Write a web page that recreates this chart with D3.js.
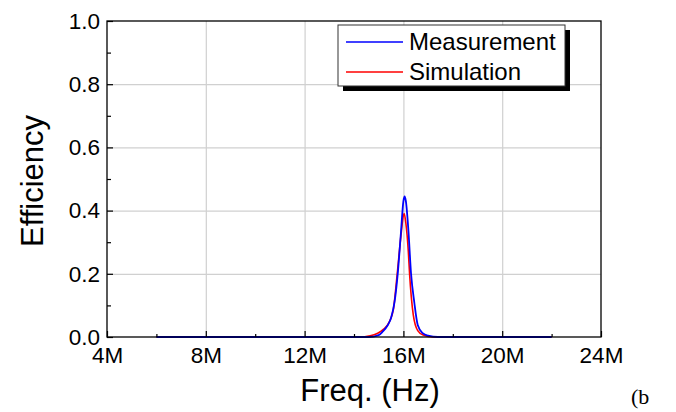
<!DOCTYPE html>
<html>
<head>
<meta charset="utf-8">
<script src="https://cdn.jsdelivr.net/npm/d3@7"></script>
<style>
  body { margin: 0; background: #fff; }
  svg { display: block; font-family: "Liberation Sans", Arial, sans-serif; }
</style>
</head>
<body>
<svg id="chart" width="676" height="412"></svg>
<script>
// frequencies in MHz, efficiency
const freqMeas = [6, 14.6, 15.0, 15.16, 15.37, 15.5, 15.64, 15.77, 15.9, 16.0, 16.05, 16.1, 16.2, 16.31, 16.44, 16.58, 16.78, 17.0, 17.4, 22];
const measurement = [0, 0, 0.006, 0.017, 0.038, 0.06, 0.11, 0.2, 0.33, 0.43, 0.445, 0.43, 0.34, 0.2, 0.11, 0.038, 0.012, 0.004, 0, 0];

const freqSim = [6, 14.3, 14.6, 14.96, 15.2, 15.43, 15.6, 15.75, 15.9, 16.0, 16.03, 16.1, 16.2, 16.25, 16.4, 16.58, 16.8, 17.2, 22];
const simulation = [0, 0, 0.003, 0.012, 0.025, 0.048, 0.09, 0.2, 0.32, 0.385, 0.391, 0.36, 0.27, 0.2, 0.07, 0.02, 0.006, 0, 0];

const xTicks = [4, 8, 12, 16, 20, 24];
const xMinor = [6, 10, 14, 18, 22];
const yTicks = [0, 0.2, 0.4, 0.6, 0.8, 1.0];
const yMinor = [0.1, 0.3, 0.5, 0.7, 0.9];

const seriesNames = ["Measurement", "Simulation"];
const seriesColors = ["#0000ff", "#ff0000"];

const margin = {left: 107, top: 21, right: 75, bottom: 75};
const width = 676 - margin.left - margin.right;
const height = 412 - margin.top - margin.bottom;

const svg = d3.select("#chart");
const g = svg.append("g").attr("transform", `translate(${margin.left},${margin.top})`);

const x = d3.scaleLinear().domain([4, 24]).range([0, width]);
const y = d3.scaleLinear().domain([0, 1]).range([height, 0]);

// grid
g.append("g")
  .attr("transform", `translate(0,${height})`)
  .call(d3.axisBottom(x).tickValues(xTicks.slice(1, -1)).tickSize(-height).tickFormat(""))
  .call(a => a.select(".domain").remove())
  .call(a => a.selectAll("line").attr("stroke", "#d0d0d0").attr("stroke-width", 1.2));
g.append("g")
  .call(d3.axisLeft(y).tickValues(yTicks.slice(1, -1)).tickSize(-width).tickFormat(""))
  .call(a => a.select(".domain").remove())
  .call(a => a.selectAll("line").attr("stroke", "#d0d0d0").attr("stroke-width", 1.2));

// lines
const pairs = [
  freqMeas.map((f, i) => [f, measurement[i]]),
  freqSim.map((f, i) => [f, simulation[i]])
];
const line = d3.line().x(d => x(d[0])).y(d => y(d[1])).curve(d3.curveMonotoneX);

g.append("path").datum(pairs[1])
  .attr("fill", "none").attr("stroke", seriesColors[1]).attr("stroke-width", 1.6)
  .attr("d", line);
g.append("path").datum(pairs[0])
  .attr("fill", "none").attr("stroke", seriesColors[0]).attr("stroke-width", 1.8)
  .attr("d", line);

// frame
g.append("rect").attr("width", width).attr("height", height)
  .attr("fill", "none").attr("stroke", "#000").attr("stroke-width", 1.3);

// axes
const xAxis = g.append("g")
  .attr("transform", `translate(0,${height})`)
  .call(d3.axisBottom(x).tickValues(xTicks).tickSize(-6).tickPadding(10.5).tickFormat(d => d + "M"));
const xMinorAxis = g.append("g")
  .attr("transform", `translate(0,${height})`)
  .call(d3.axisBottom(x).tickValues(xMinor).tickSize(-3).tickFormat(""));
const yAxis = g.append("g")
  .call(d3.axisLeft(y).tickValues(yTicks).tickSize(-6).tickPadding(7).tickFormat(d3.format(".1f")));
const yMinorAxis = g.append("g")
  .call(d3.axisLeft(y).tickValues(yMinor).tickSize(-4).tickFormat(""));

[xAxis, xMinorAxis, yAxis, yMinorAxis].forEach(a => {
  a.select(".domain").remove();
  a.selectAll("line").attr("stroke", "#000").attr("stroke-width", 1.2);
  a.selectAll("text").attr("fill", "#000").attr("font-size", 22.5)
    .attr("font-family", "Liberation Sans, Arial, sans-serif");
});

// axis titles
svg.append("text")
  .attr("x", 370).attr("y", 401)
  .attr("text-anchor", "middle").attr("font-size", 31)
  .text("Freq. (Hz)");
svg.append("text")
  .attr("transform", "translate(43,181) rotate(-90)")
  .attr("text-anchor", "middle").attr("font-size", 31)
  .text("Efficiency");

// legend
const lg = svg.append("g");
lg.append("rect").attr("x", 343).attr("y", 30).attr("width", 227).attr("height", 61).attr("fill", "#000");
lg.append("rect").attr("x", 338).attr("y", 25).attr("width", 227).attr("height", 61)
  .attr("fill", "#fff").attr("stroke", "#333").attr("stroke-width", 1);
seriesNames.forEach((name, i) => {
  const ly = 42 + i * 30;
  lg.append("line").attr("x1", 346).attr("x2", 403).attr("y1", ly).attr("y2", ly)
    .attr("stroke", seriesColors[i]).attr("stroke-width", 1.6);
  lg.append("text").attr("x", 409).attr("y", ly + 8).attr("font-size", 24).text(name);
});

// panel label
svg.append("text")
  .attr("x", 631).attr("y", 404)
  .attr("font-family", "Liberation Serif, Times New Roman, serif")
  .attr("font-size", 22)
  .text("(b");
</script>
</body>
</html>
